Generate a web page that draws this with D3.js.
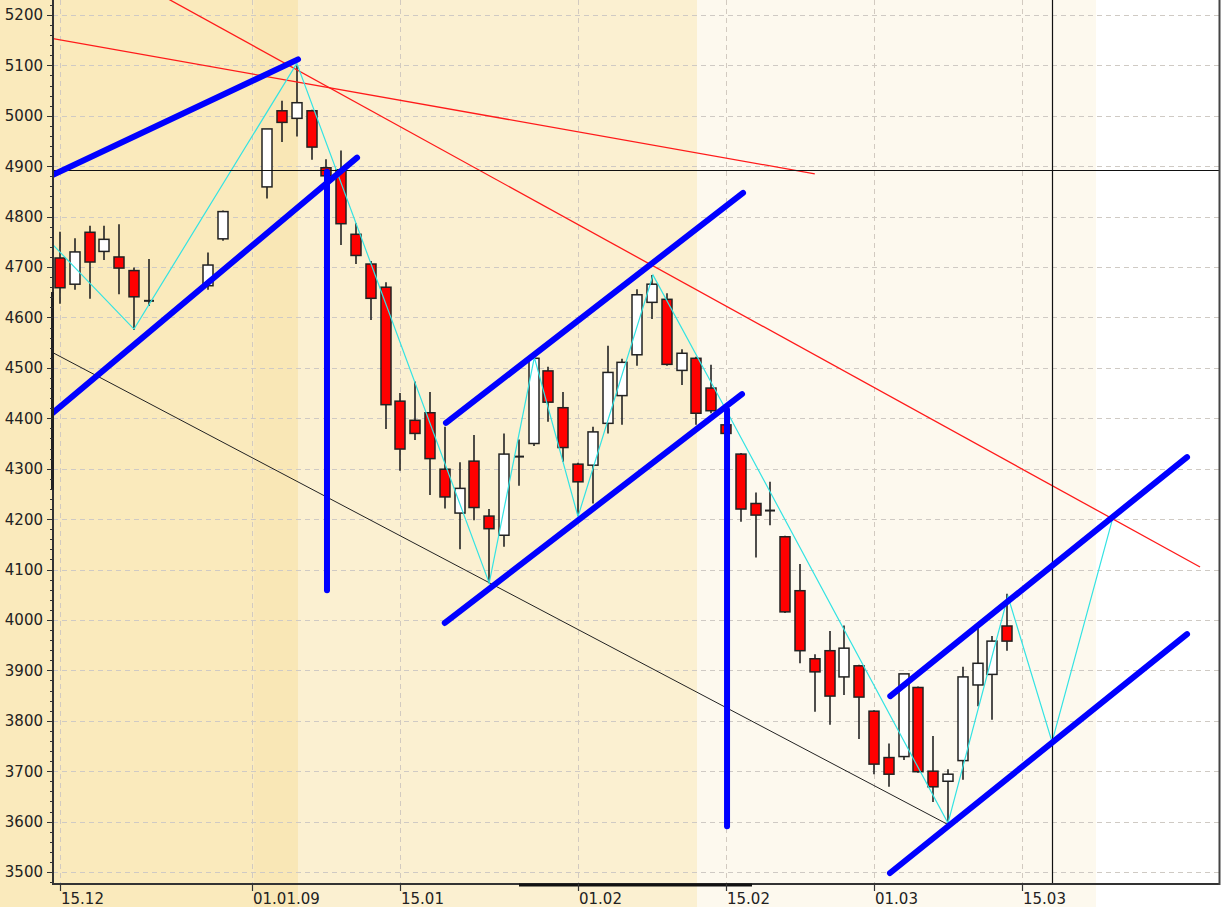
<!DOCTYPE html>
<html><head><meta charset="utf-8">
<script src="https://cdn.jsdelivr.net/npm/d3@7"></script>
<style>body{margin:0;background:#fff}svg{display:block}text{font-family:"DejaVu Sans",Verdana,sans-serif}</style>
</head><body><svg id="c" width="1222" height="907"></svg>
<script>
// ---- data ----
const dates = ["2008-12-15","2008-12-16","2008-12-17","2008-12-18","2008-12-19","2008-12-22","2008-12-23",
"2008-12-29","2008-12-30","2009-01-02","2009-01-05","2009-01-06","2009-01-07","2009-01-08","2009-01-09",
"2009-01-12","2009-01-13","2009-01-14","2009-01-15","2009-01-16","2009-01-19","2009-01-20","2009-01-21",
"2009-01-22","2009-01-23","2009-01-26","2009-01-27","2009-01-28","2009-01-29","2009-01-30","2009-02-02",
"2009-02-03","2009-02-04","2009-02-05","2009-02-06","2009-02-09","2009-02-10","2009-02-11","2009-02-12",
"2009-02-13","2009-02-16","2009-02-17","2009-02-18","2009-02-19","2009-02-20","2009-02-23","2009-02-24",
"2009-02-25","2009-02-26","2009-02-27","2009-03-02","2009-03-03","2009-03-04","2009-03-05","2009-03-06",
"2009-03-09","2009-03-10","2009-03-11","2009-03-12","2009-03-13"];
const openV  = [4718,4666,4769,4731,4720,4693,4633,4663,4756,4859,5010,4995,5010,4897,4893,4765,4706,4660,4434,4396,4411,4299,4212,4315,4206,4168,4324,4350,4494,4421,4309,4307,4390,4445,4526,4630,4636,4495,4519,4460,4387,4329,4231,4217,4165,4058,3923,3939,3887,3909,3819,3727,3729,3866,3700,3680,3721,3871,3892,3988];
const highV  = [4770,4757,4782,4782,4785,4699,4716,4729,4812,4974,5030,5100,5012,4914,4931,4787,4712,4670,4450,4473,4452,4383,4313,4367,4220,4370,4358,4522,4502,4452,4312,4383,4544,4518,4656,4684,4648,4537,4522,4506,4395,4331,4253,4274,4167,4111,3932,3978,3989,3911,3821,3755,3893,3868,3770,3704,3907,3985,3968,4052];
const lowV   = [4627,4655,4637,4714,4646,4575,4623,4655,4752,4836,4948,4959,4913,4870,4744,4706,4595,4379,4296,4357,4248,4221,4140,4198,4073,4145,4266,4345,4393,4314,4206,4231,4370,4387,4504,4597,4504,4466,4387,4410,4365,4195,4124,4188,4014,3914,3818,3792,3851,3764,3694,3669,3722,3697,3639,3597,3683,3829,3802,3939];
const closeV = [4659,4730,4710,4755,4698,4641,4633,4704,4810,4974,4987,5026,4938,4881,4786,4723,4638,4427,4339,4370,4320,4244,4261,4223,4181,4329,4324,4519,4432,4342,4274,4373,4491,4511,4645,4666,4507,4529,4410,4415,4370,4220,4208,4217,4016,3939,3897,3849,3944,3847,3714,3694,3893,3699,3669,3694,3887,3914,3958,3958];

const yTicks = d3.range(3500, 5201, 100);
const xTickDates = ["2008-12-15","2009-01-01","2009-01-15","2009-02-01","2009-02-15","2009-03-01","2009-03-15"];
const xTickLabels = ["15.12","01.01.09","15.01","01.02","15.02","01.03","15.03"];

// background period bands (bar index boundaries)
const bandStarts = [-5, 13.1, 16.08, 43.04, 70.0];
const bandEnds   = [13.1, 16.08, 43.04, 70.0, 90];
const bandColors = ["#faeabc","#f9e7b6","#fbf0d1","#fdf9ee","#ffffff"];

// drawn analysis lines: [barIndex, price]
const blueLines = [
  [[-0.47,4883],[16.08,5112]],
  [[-0.47,4411],[20.07,4917]],
  [[18.04,4889],[18.04,4059]],
  [[26.08,4391],[46.15,4847]],
  [[26.0,3994],[46.08,4448]],
  [[45.07,4417],[45.07,3591]],
  [[56.1,3849],[76.15,4323]],
  [[56.08,3498],[76.15,3972]]
];
const redLines = [
  [[-0.47,5153],[51.0,4885]],
  [[7.3,5232],[77.03,4105]]
];
const blackLine = [[-0.47,4530],[60.07,3593]];
const zigzag = [[-0.47,4744],[5,4577],[16,5104],[29,4073],[32.05,4521],[35,4205],[40.07,4684],[45.07,4413],[60,3597],[64.05,4047],[67.03,3758],[71.15,4204]];
const crossPrice = 4893, crossIndex = 67.03;

// ---- helpers ----
const parse = d3.utcParse("%Y-%m-%d");
const start = parse(dates[0]);
function wIndex(s){
  const d = parse(s); let n = 0; const t = new Date(start);
  while (t < d){ const wd = t.getUTCDay(); if (wd !== 0 && wd !== 6) n++; t.setUTCDate(t.getUTCDate()+1); }
  return n;
}

// ---- layout ----
const W = 1222, H = 907;
const L = 53, R = 1219, T = 0, B = 884;
const svg = d3.select("#c");
const x = d3.scaleLinear().domain([0, 65]).range([60, 60 + 65*14.8]);
const y = d3.scaleLinear().domain([3500, 5200]).range([872, 15]);

// bands (full height)
svg.append("g").selectAll("rect").data(bandStarts).join("rect")
  .attr("x", (d,i) => Math.max(0, x(d)))
  .attr("y", 0)
  .attr("width", (d,i) => Math.min(W, x(bandEnds[i])) - Math.max(0, x(d)))
  .attr("height", H)
  .attr("fill", (d,i) => bandColors[i]);

// clip
svg.append("clipPath").attr("id","plot").append("rect")
  .attr("x", L).attr("y", T).attr("width", R - L).attr("height", B - T);

// grid
const grid = svg.append("g");
grid.selectAll("line.h").data(yTicks).join("line")
  .attr("x1", L).attr("x2", R).attr("y1", d => Math.round(y(d))+0.5).attr("y2", d => Math.round(y(d))+0.5)
  .attr("stroke", "#cfcac4").attr("stroke-dasharray", "5,4");
const xTickIdx = xTickDates.map(wIndex);
grid.selectAll("line.v").data(xTickIdx).join("line")
  .attr("x1", d => Math.round(x(d))+0.5).attr("x2", d => Math.round(x(d))+0.5).attr("y1", 0).attr("y2", B)
  .attr("stroke", "#d2cac0").attr("stroke-dasharray", "5,4");

const plot = svg.append("g").attr("clip-path", "url(#plot)");
const lineGen = d3.line().x(p => x(p[0])).y(p => y(p[1]));

// black trend line
plot.append("path").attr("d", lineGen(blackLine)).attr("stroke", "#222").attr("stroke-width", 1).attr("fill", "none");

// candles
const candles = dates.map((d,i) => ({i: wIndex(d), o: openV[i], h: highV[i], l: lowV[i], c: closeV[i]}));
const cg = plot.append("g");
cg.selectAll("line.wick").data(candles).join("line")
  .attr("x1", d => Math.round(x(d.i))).attr("x2", d => Math.round(x(d.i)))
  .attr("y1", d => y(d.h)).attr("y2", d => y(d.l))
  .attr("stroke", "#222").attr("stroke-width", 1.6);
cg.selectAll("rect.body").data(candles.filter(d => d.o !== d.c)).join("rect")
  .attr("x", d => Math.round(x(d.i)) - 5)
  .attr("y", d => y(Math.max(d.o, d.c)))
  .attr("width", 10)
  .attr("height", d => Math.abs(y(d.o) - y(d.c)))
  .attr("fill", d => d.c > d.o ? "#ffffff" : "#ff0000")
  .attr("stroke", "#222").attr("stroke-width", 1.5);
cg.selectAll("line.doji").data(candles.filter(d => d.o === d.c)).join("line")
  .attr("x1", d => Math.round(x(d.i)) - 5).attr("x2", d => Math.round(x(d.i)) + 5)
  .attr("y1", d => y(d.o)).attr("y2", d => y(d.o))
  .attr("stroke", "#222").attr("stroke-width", 2);

// red lines
plot.selectAll("path.red").data(redLines).join("path")
  .attr("d", d => lineGen(d)).attr("stroke", "#ff1a1a").attr("stroke-width", 1.3).attr("fill", "none");

// cyan zigzag
plot.append("path").attr("d", lineGen(zigzag)).attr("stroke", "#33e3e3").attr("stroke-width", 1.2).attr("fill", "none");

// crosshair
plot.append("line").attr("x1", L).attr("x2", R).attr("y1", Math.round(y(crossPrice))+0.5).attr("y2", Math.round(y(crossPrice))+0.5)
  .attr("stroke", "#111").attr("stroke-width", 1);
plot.append("line").attr("x1", Math.round(x(crossIndex))+0.5).attr("x2", Math.round(x(crossIndex))+0.5).attr("y1", 0).attr("y2", B)
  .attr("stroke", "#111").attr("stroke-width", 1.2);

// blue lines
plot.selectAll("path.blue").data(blueLines).join("path")
  .attr("d", d => lineGen(d)).attr("stroke", "#0000ff").attr("stroke-width", 6)
  .attr("stroke-linecap", "round").attr("fill", "none");

// ---- axes ----
const ax = svg.append("g");
ax.append("line").attr("x1", L).attr("x2", L).attr("y1", 0).attr("y2", B+1).attr("stroke", "#333").attr("stroke-width", 2);
ax.append("line").attr("x1", L-0.5).attr("x2", L-0.5).attr("y1", 292).attr("y2", 490).attr("stroke", "#222").attr("stroke-width", 3);
const minor = d3.range(3480, 5240, 20);
ax.selectAll("line.mt").data(minor).join("line")
  .attr("x1", d => (d % 100 === 0) ? L-6 : L-3).attr("x2", L)
  .attr("y1", d => Math.round(y(d))+0.5).attr("y2", d => Math.round(y(d))+0.5)
  .attr("stroke", "#333").attr("stroke-width", 1);
ax.selectAll("text.yl").data(yTicks).join("text")
  .attr("x", 43).attr("y", d => y(d)).attr("dy", "0.36em")
  .attr("text-anchor", "end").attr("font-size", 15).attr("fill", "#222")
  .text(d => d);
ax.append("line").attr("x1", L-1).attr("x2", R).attr("y1", B).attr("y2", B).attr("stroke", "#333").attr("stroke-width", 2);
ax.append("line").attr("x1", 519).attr("x2", 752).attr("y1", B+1).attr("y2", B+1).attr("stroke", "#111").attr("stroke-width", 3);
ax.selectAll("line.xt").data(xTickIdx).join("line")
  .attr("x1", d => Math.round(x(d))+0.5).attr("x2", d => Math.round(x(d))+0.5)
  .attr("y1", B).attr("y2", B+7).attr("stroke", "#333").attr("stroke-width", 1.2);
ax.selectAll("text.xl").data(xTickIdx).join("text")
  .attr("x", d => Math.round(x(d)) + 1).attr("y", 904)
  .attr("font-size", 15).attr("fill", "#222")
  .text((d,i) => xTickLabels[i]);
ax.append("line").attr("x1", R+0.5).attr("x2", R+0.5).attr("y1", 0).attr("y2", B+1).attr("stroke", "#444").attr("stroke-width", 2);
</script></body></html>
